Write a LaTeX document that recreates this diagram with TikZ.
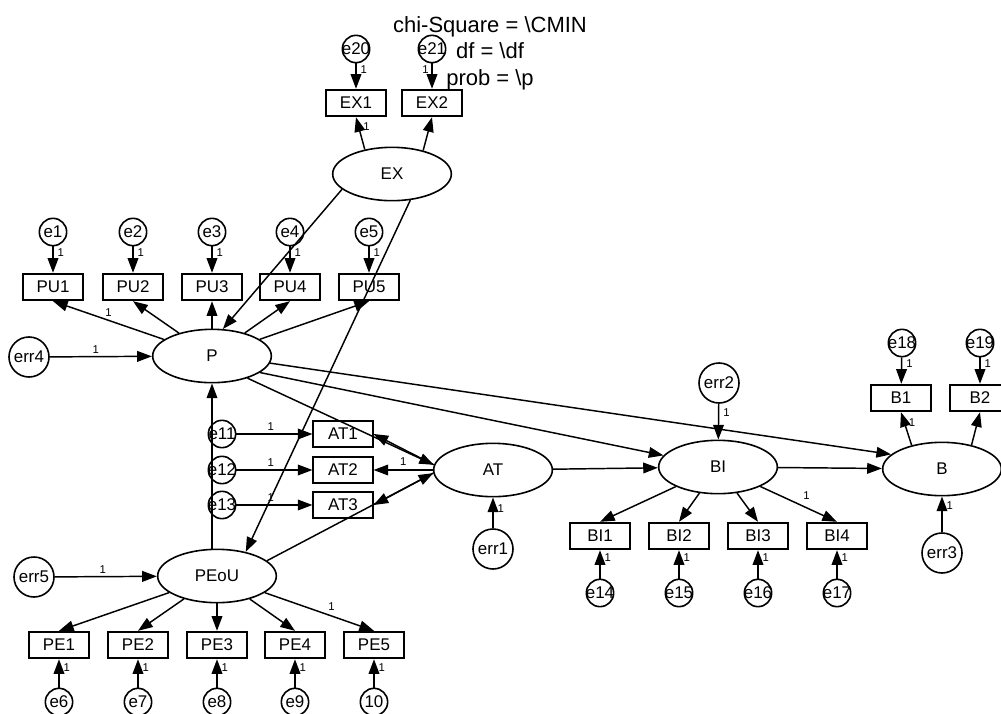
\documentclass[tikz,border=0pt]{standalone}
\usepackage{fontspec}
\setmainfont{Liberation Sans}
\usetikzlibrary{arrows.meta,shapes.geometric}
\newcommand\zw[1]{\makebox[0pt]{#1}}

\begin{document}
\begin{tikzpicture}[x=0.75pt,y=-0.75pt,>={Triangle[length=11pt,width=8pt]},
  font=\fontsize{12.7}{14}\selectfont,line width=1.1pt,
  obs/.style={draw,line width=1.3pt,minimum width=44.5pt,minimum height=20pt,inner sep=0pt},
  lat/.style={draw,ellipse,line width=1.2pt,minimum width=89pt,minimum height=40pt,inner sep=0pt},
  res/.style={draw,circle,line width=1.2pt,minimum size=20.5pt,inner sep=0pt},
  dist/.style={draw,circle,line width=1.2pt,minimum size=30pt,inner sep=0pt},
  stat/.style={anchor=base,font=\fontsize{16.5}{18}\selectfont},
  one/.style={font=\fontsize{8.5}{9}\selectfont,inner sep=1pt}]
\useasboundingbox (0,0) rectangle (1001,714);

% fit statistics
\node[stat] (chi) at (490,32) {chi-Square = \textbackslash CMIN};
\node[stat] (df) at (490,58) {df = \textbackslash df};
\node[stat] (prob) at (490,85) {prob = \textbackslash p};

% latent variables
\node[lat] (ex) at (392,174) {EX};
\node[lat] (p) at (212,356) {P};
\node[lat] (peou) at (217,576) {PEoU};
\node[lat] (at) at (493,470) {AT};
\node[lat] (bi) at (718,467) {BI};
\node[lat] (b) at (942,469) {B};

% disturbances
\node[dist] (err4) at (29,357) {err4};
\node[dist] (err5) at (34,577) {err5};
\node[dist] (err1) at (493,549) {err1};
\node[dist] (err2) at (719,383) {err2};
\node[dist] (err3) at (942,553) {err3};
\draw[->] (err4) -- node[one,pos=0.45,above=1pt]{1} (p);
\draw[->] (err5) -- node[one,pos=0.47,above=1pt]{1} (peou);
\draw[->] (err1) -- node[one,pos=0.65,right=2pt]{1} (at);
\draw[->] (err2) -- node[one,pos=0.25,right=2pt]{1} (bi);
\draw[->] (err3) -- node[one,pos=0.75,right=2pt]{1} (b);

% EX block
\node[obs] (ex1) at (356,103) {EX1};
\node[obs] (ex2) at (432,103) {EX2};
\node[res] (e20) at (356,49) {\zw{e20}};
\node[res] (e21) at (432,49) {\zw{e21}};
\draw[->] (e20) -- node[one,pos=0.25,right=2pt]{1} (ex1);
\draw[->] (e21) -- node[one,pos=0.25,left=1pt]{1} (ex2);
\draw[->] (ex.138) -- node[one,pos=0.7,right=2pt]{1} (ex1.south);
\draw[->] (ex.37) -- (ex2.south);

% PU block
\foreach \i/\x in {1/53,2/133,3/212,4/290,5/369}{
  \node[obs] (pu\i) at (\x,287) {PU\i};
  \node[res] (e\i) at (\x,232) {\zw{e\i}};
  \draw[->] (e\i) -- node[one,pos=0.25,right=2pt]{1} (pu\i);
}
\draw[->] (p) -- node[one,above=1pt]{1} (pu1.south);
\foreach \i in {2,...,5} \draw[->] (p) -- (pu\i.south);

% PE block
\foreach \i/\j/\x/\t in {1/6/59/e6,2/7/138/e7,3/8/217/e8,4/9/295/e9,5/10/374/10}{
  \node[obs] (pe\i) at (\x,645) {PE\i};
  \node[res] (e\j) at (\x,702) {\zw{\t}};
  \draw[->] (e\j) -- node[one,pos=0.7,right=2pt]{1} (pe\i);
}
\foreach \i in {1,...,4} \draw[->] (peou) -- (pe\i.north);
\draw[->] (peou) -- node[one,pos=0.55,above right=1pt]{1} (pe5.north);

% AT block
\foreach \i/\y [evaluate=\i as \k using int(\i+10)] in {1/434,2/470,3/505}{
  \node[obs] (at\i) at (343,\y) {AT\i};
  \node[res] (e\k) at (222,\y) {\zw{e\k}};
  \draw[->] (e\k) -- node[one,pos=0.45,above=1pt]{1} (at\i);
}
\draw[->] (at.175) -- (at1.east);
\draw[->] (at) -- node[one,above=2pt]{1} (at2);
\draw[->] (at.183) -- (at3.east);

% BI block
\foreach \i/\x [evaluate=\i as \k using int(\i+13)] in {1/600,2/679,3/758,4/837}{
  \node[obs] (bi\i) at (\x,536) {BI\i};
  \node[res] (e\k) at (\x,593) {\zw{e\k}};
  \draw[->] (e\k) -- node[one,pos=0.75,right=2pt]{1} (bi\i);
}
\foreach \i in {1,...,3} \draw[->] (bi) -- (bi\i.north);
\draw[->] (bi) -- node[one,pos=0.5,above right=2pt]{1} (bi4.north);

% B block
\node[obs] (b1) at (901,398) {B1};
\node[obs] (b2) at (980,398) {B2};
\node[res] (e18) at (902,343) {\zw{e18}};
\node[res] (e19) at (980,343) {\zw{e19}};
\draw[->] (e18) -- node[one,pos=0.25,right=2pt]{1} (b1);
\draw[->] (e19) -- node[one,pos=0.25,right=2pt]{1} (b2);
\draw[->] (b.142) -- node[one,pos=0.7,right=2pt]{1} (b1.south);
\draw[->] (b.39) -- (b2.south);

% structural paths
\draw[->] (ex.197) -- (p.68);
\draw[->] (ex.-55) -- (peou.40);
\draw[->] (peou.north -| p.south) -- (p.south);
\draw[->] (p.-32) -- (at.175);
\draw[->] (p.-19) -- (bi.168);
\draw[->] (p.-7) -- (b.164);
\draw[->] (peou.17) -- (at.183);
\draw[->] (at) -- (bi);
\draw[->] (bi) -- (b);
\end{tikzpicture}
\end{document}
